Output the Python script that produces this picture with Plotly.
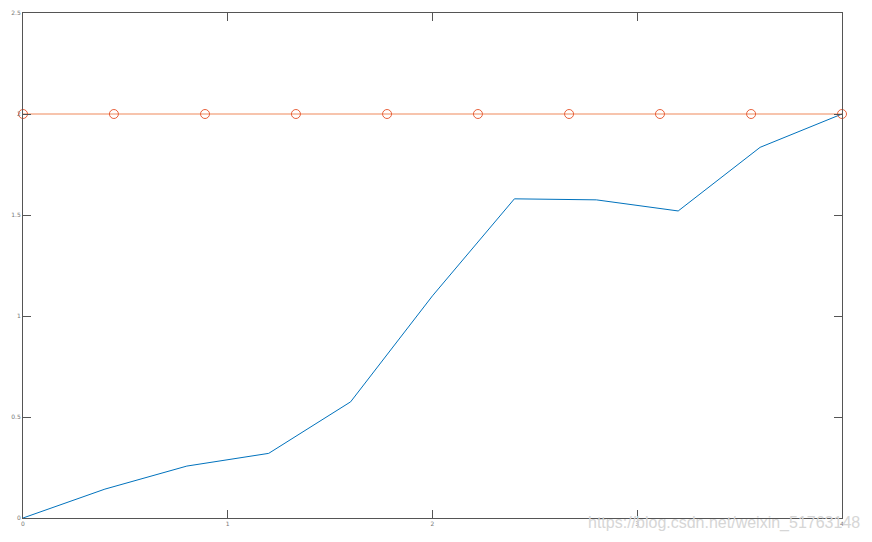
import plotly.graph_objects as go

x_blue = [0, 0.4, 0.8, 1.2, 1.6, 2.0, 2.4, 2.8, 3.2, 3.6, 4.0]
y_blue = [0, 0.143, 0.257, 0.32, 0.575, 1.10, 1.58, 1.575, 1.52, 1.835, 2.0]
x_orange = [0, 0.444, 0.889, 1.333, 1.778, 2.222, 2.667, 3.111, 3.556, 4.0]
y_orange = [2, 2, 2, 2, 2, 2, 2, 2, 2, 2]
x_ticks = [0, 1, 2, 3, 4]
x_tick_labels = ["0", "1", "2", "3", "4"]
y_ticks = [0, 0.5, 1, 1.5, 2, 2.5]
y_tick_labels = ["0", "0.5", "1", "1.5", "2", "2.5"]

fig = go.Figure()
fig.add_trace(go.Scatter(x=x_blue, y=y_blue, mode="lines",
                         line=dict(color="#0072BD", width=1), showlegend=False))
fig.add_trace(go.Scatter(x=x_orange, y=y_orange, mode="lines+markers",
                         line=dict(color="#F08A5D", width=1.2),
                         marker=dict(symbol="circle-open", size=9, color="#E8603A", line=dict(width=1)),
                         showlegend=False, cliponaxis=False))

axis_common = dict(showgrid=False, zeroline=False, showline=True, mirror="allticks",
                   linecolor="#555555", linewidth=1, ticks="inside", ticklen=8,
                   tickcolor="#555555", tickwidth=1, automargin=False,
                   tickfont=dict(family="DejaVu Sans", size=6, color="#777777"))
fig.update_xaxes(range=[0, 4], tickvals=x_ticks, ticktext=x_tick_labels, **axis_common)
fig.update_yaxes(range=[0, 2.5], tickvals=y_ticks, ticktext=y_tick_labels, **axis_common)

fig.add_annotation(text="https://blog.csdn.net/weixin_51763148", xref="paper", yref="paper",
                   x=1.0, y=0, xanchor="right", yanchor="middle", xshift=20, yshift=-5,
                   showarrow=False, font=dict(family="Liberation Sans", size=16, color="#d6d6d6"))

fig.update_layout(width=856, height=526, plot_bgcolor="white", paper_bgcolor="white",
                  margin=dict(l=15, r=22, t=5, b=16, autoexpand=False))
fig.write_html("out.html")
